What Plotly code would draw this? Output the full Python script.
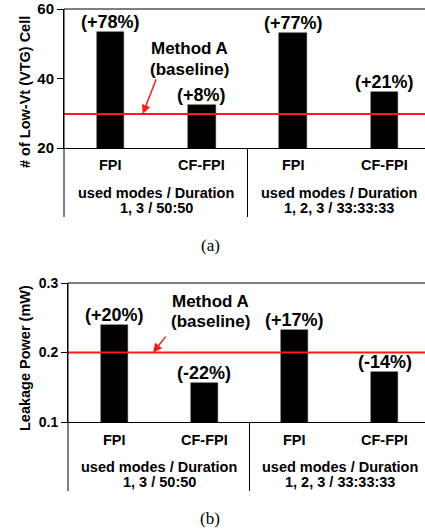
import plotly.graph_objects as go

# ---- data ----
categories = ["FPI", "CF-FPI", "FPI", "CF-FPI"]
vtg_cells = [53.4, 32.4, 53.1, 36.2]
vtg_labels = ["(+78%)", "(+8%)", "(+77%)", "(+21%)"]
leak_power = [0.240, 0.156, 0.233, 0.172]
leak_labels = ["(+20%)", "(-22%)", "(+17%)", "(-14%)"]
baseline_vtg = 29.8
baseline_leak = 0.2
group_line1 = ["used modes / Duration", "used modes / Duration"]
group_line2 = ["1, 3 / 50:50", "1, 2, 3 / 33:33:33"]
vtg_ticks = [20, 40, 60]
leak_ticks = [0.1, 0.2, 0.3]

W, H = 425, 532
FONT = "Liberation Sans, Arial, sans-serif"


def py(p):
    return 1 - p / H


xs = list(range(len(categories)))

fig = go.Figure()
fig.add_trace(go.Bar(x=xs, y=vtg_cells, width=0.3, marker=dict(color="black", line=dict(color="#333", width=0.5)),
                     xaxis="x", yaxis="y", showlegend=False))
fig.add_trace(go.Bar(x=xs, y=leak_power, width=0.3, marker=dict(color="black", line=dict(color="#333", width=0.5)),
                     xaxis="x2", yaxis="y2", showlegend=False))

panels = [
    dict(xa="x", ya="y", top=9, bot=148, vals=vtg_cells, labs=vtg_labels, base=baseline_vtg,
         cat=165, g1=193, g2=208, ext=217, cap="(a)", capy=245,
         m1=48.5, m2=42.5, mx=0.87, head=(0.353, baseline_vtg), tail=(0.506, 40.2)),
    dict(xa="x2", ya="y2", top=283, bot=422, vals=leak_power, labs=leak_labels, base=baseline_leak,
         cat=440, g1=467, g2=482, ext=491, cap="(b)", capy=518,
         m1=0.2727, m2=0.2439, mx=1.07, head=(0.432, baseline_leak), tail=(0.584, 0.225)),
]

shapes = []
annos = []
for p in panels:
    xdom = p["xa"] + " domain"
    shapes.append(dict(type="line", xref=xdom, yref=p["ya"], x0=0, x1=1, y0=p["base"], y1=p["base"],
                       line=dict(color="#ff1a1a", width=2), layer="above"))
    shapes.append(dict(type="line", xref=xdom, yref="paper", x0=0, x1=1, y0=py(p["top"]), y1=py(p["top"]),
                       line=dict(color="#555", width=1.5)))
    shapes.append(dict(type="line", xref=xdom, yref="paper", x0=0, x1=0, y0=py(p["top"]), y1=py(p["ext"]),
                       line=dict(color="black", width=1)))
    shapes.append(dict(type="line", xref=p["xa"], yref="paper", x0=1.5, x1=1.5, y0=py(p["bot"]), y1=py(p["ext"]),
                       line=dict(color="black", width=1)))
    for i, (v, t) in enumerate(zip(p["vals"], p["labs"])):
        annos.append(dict(x=i, y=v, xref=p["xa"], yref=p["ya"], text="<b>" + t + "</b>", showarrow=False,
                          yanchor="middle", yshift=10, font=dict(family=FONT, size=18, color="black")))
    for i, c in enumerate(categories):
        annos.append(dict(x=i, y=py(p["cat"]), xref=p["xa"], yref="paper", text="<b>" + c + "</b>",
                          showarrow=False, yanchor="middle", font=dict(family=FONT, size=14.5, color="black")))
    for j in range(2):
        annos.append(dict(x=0.5 + 2 * j, y=py(p["g1"]), xref=p["xa"], yref="paper", text="<b>" + group_line1[j] + "</b>",
                          showarrow=False, yanchor="middle", borderpad=0,
                          font=dict(family=FONT, size=14.5, color="black")))
        annos.append(dict(x=0.5 + 2 * j, y=py(p["g2"]), xref=p["xa"], yref="paper", text="<b>" + group_line2[j] + "</b>",
                          showarrow=False, yanchor="middle", borderpad=0,
                          font=dict(family=FONT, size=14.5, color="black")))
    annos.append(dict(x=210 / W, y=py(p["capy"]), xref="paper", yref="paper", text=p["cap"], showarrow=False,
                      yanchor="middle", font=dict(family="Liberation Serif, Times New Roman, serif", size=17, color="black")))
    annos.append(dict(x=p["mx"], y=p["m1"], xref=p["xa"], yref=p["ya"], text="<b>Method A</b>", showarrow=False,
                      yanchor="middle", font=dict(family=FONT, size=17, color="black")))
    annos.append(dict(x=p["mx"], y=p["m2"], xref=p["xa"], yref=p["ya"], text="<b>(baseline)</b>", showarrow=False,
                      yanchor="middle", font=dict(family=FONT, size=17, color="black")))
    annos.append(dict(x=p["head"][0], y=p["head"][1], xref=p["xa"], yref=p["ya"],
                      ax=p["tail"][0], ay=p["tail"][1], axref=p["xa"], ayref=p["ya"], text="",
                      showarrow=True, arrowhead=2, arrowsize=1.2, arrowwidth=1.5, arrowcolor="#ff1a1a"))

annos.append(dict(x=25 / W, y=py(92), xref="paper", yref="paper", text="<b># of Low-Vt (VTG) Cell</b>",
                  textangle=-90, showarrow=False, xanchor="center", yanchor="middle",
                  font=dict(family=FONT, size=14.5, color="black")))
annos.append(dict(x=25 / W, y=py(358), xref="paper", yref="paper", text="<b>Leakage Power (mW)</b>",
                  textangle=-90, showarrow=False, xanchor="center", yanchor="middle",
                  font=dict(family=FONT, size=14.5, color="black")))

xcommon = dict(showgrid=False, zeroline=False, showticklabels=False, ticks="", showline=True,
               linecolor="black", linewidth=1, fixedrange=True, automargin=False)
ycommon = dict(showgrid=False, zeroline=False, ticks="outside", ticklen=6, tickcolor="black",
               showline=True, linecolor="black", linewidth=1, automargin=False)

fig.update_layout(
    width=W, height=H, margin=dict(l=0, r=0, t=0, b=0, autoexpand=False),
    plot_bgcolor="white", paper_bgcolor="white", bargap=0,
    xaxis=dict(domain=[64 / W, 1], range=[-0.51, 3.445], anchor="y", **xcommon),
    yaxis=dict(domain=[py(148), py(9)], range=[20, 60], tickvals=vtg_ticks, anchor="x",
               tickfont=dict(family=FONT, size=15, color="black", weight="bold"), **ycommon),
    xaxis2=dict(domain=[68 / W, 1], range=[-0.51, 3.444], anchor="y2", **xcommon),
    yaxis2=dict(domain=[py(422), py(283)], range=[0.1, 0.3], tickvals=leak_ticks, tickformat=".1f",
                anchor="x2", tickfont=dict(family=FONT, size=14, color="black", weight="bold"), **ycommon),
    shapes=shapes, annotations=annos,
)

fig.write_html("out.html")
